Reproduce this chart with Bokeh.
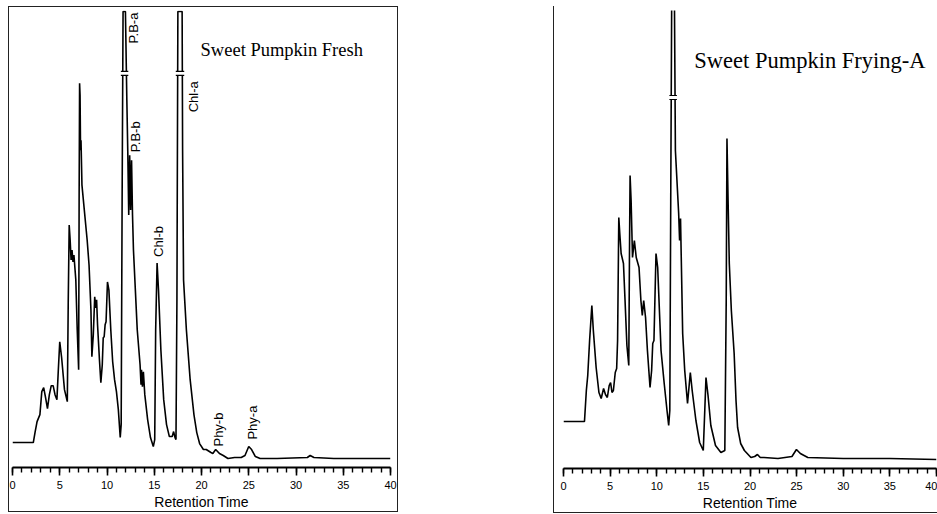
import numpy as np
from bokeh.plotting import figure
from bokeh.models import Range1d, Label, SingleIntervalTicker, ColumnDataSource, Spacer
from bokeh.layouts import row, column
from bokeh.embed import file_html
from bokeh.resources import INLINE
from bokeh.core.properties import value

# ---------------- data ----------------
fresh_time = [0.0, 2.2, 2.4, 2.6, 2.9, 3.1, 3.3, 3.5, 3.7, 3.9, 4.1, 4.3, 4.5, 4.7, 4.85, 5.0, 5.2, 5.5,
              5.8, 5.9, 6.0, 6.1, 6.2, 6.3, 6.4, 6.5, 6.7, 6.85, 7.0, 7.05, 7.1, 7.15, 7.2, 7.25, 7.35,
              7.6, 7.9, 8.1, 8.3, 8.4, 8.55, 8.7, 8.8, 8.9, 9.0, 9.2, 9.35, 9.5, 9.6, 9.7, 9.8, 9.9,
              10.05, 10.2, 10.4, 10.6, 10.8, 11.0, 11.2, 11.4, 11.5, 11.6, 11.7, 11.95, 12.1, 12.2,
              12.3, 12.4, 12.5, 12.6, 12.7, 12.8, 13.0, 13.2, 13.5, 13.6, 13.65, 13.75, 13.85, 14.0,
              14.3, 14.6, 14.9, 15.05, 15.15, 15.3, 15.45, 15.7, 16.0, 16.3, 16.6, 16.9, 17.05, 17.2,
              17.3, 17.4, 17.5, 17.95, 18.0, 18.1, 18.4, 18.8, 19.2, 19.5, 19.8, 20.2, 20.5, 21.0,
              21.2, 21.5, 21.9, 22.3, 22.8, 23.5, 24.2, 24.6, 25.0, 25.3, 25.7, 26.2, 28.0, 31.2,
              31.5, 31.9, 34.0, 40.0]
fresh_signal = [16, 16, 27, 37, 44, 67, 71, 61, 50, 64, 73, 73, 64, 59, 89, 117, 101, 69,
                57, 159, 234, 219, 199, 209, 197, 204, 179, 129, 89, 259, 376, 364, 309, 319, 274,
                249, 219, 194, 149, 102, 124, 162, 151, 159, 134, 99, 76, 94, 121, 122, 134, 137,
                177, 169, 129, 97, 79, 67, 49, 21, 34, 259, 448, 448, 359, 307,
                244, 304, 249, 299, 244, 209, 169, 129, 94, 74, 89, 72, 87, 64,
                39, 21, 12, 19, 129, 196, 169, 109, 59, 34, 22, 22, 27, 21,
                19, 159, 448, 448, 309, 179, 129, 79, 44, 26, 15, 9, 9, 6,
                5, 9, 5, 3, 0, 1, 1, 3, 12, 9, 2, 0, 0, 1,
                3, 1, 0, 0]

fry_time = [0.0, 2.25, 2.45, 2.6, 2.8, 3.04, 3.2, 3.5, 3.8, 4.04, 4.3, 4.5, 4.7, 4.9, 5.05, 5.2, 5.35,
            5.55, 5.7, 5.8, 5.93, 6.05, 6.18, 6.43, 6.6, 6.8, 7.0, 7.07, 7.14, 7.25, 7.4, 7.6, 7.8,
            8.1, 8.3, 8.45, 8.6, 8.8, 9.0, 9.28, 9.45, 9.57, 9.7, 9.92, 10.1, 10.46, 10.8, 11.1,
            11.28, 11.4, 11.5, 11.6, 11.9, 12.0, 12.35, 12.45, 12.55, 12.78, 13.0, 13.3, 13.6, 13.8,
            14.2, 14.6, 14.99, 15.15, 15.28, 15.5, 15.8, 16.0, 16.3, 16.88, 17.3, 17.45, 17.53,
            17.65, 17.78, 18.0, 18.3, 18.5, 18.67, 19.0, 19.4, 20.1, 20.5, 20.8, 21.1, 21.5, 23.0,
            24.5, 24.98, 25.4, 26.2, 30.0, 35.0, 40.0]
fry_signal = [38, 38, 69, 84, 119, 154, 129, 92, 67, 61, 71, 65, 62, 74, 77, 67, 69,
              87, 91, 119, 242, 224, 206, 196, 159, 114, 94, 199, 284, 259, 202, 219, 202,
              192, 159, 144, 159, 142, 109, 72, 89, 116, 119, 206, 192, 109, 76, 49,
              34, 49, 259, 454, 454, 309, 246, 219, 241, 126, 89, 56, 87, 69,
              39, 17, 9, 49, 82, 64, 34, 26, 14, 7, 9, 159, 321,
              259, 196, 149, 106, 59, 32, 16, 9, 2, 3, 5, 2, 2, 1,
              3, 10, 6, 2, 1, 1, 0]

fresh_peak_names = ["P.B-a", "P.B-b", "Chl-a", "Chl-b", "Phy-b", "Phy-a"]
fresh_peak_label_time = [12.8, 13.0, 19.15, 15.45, 21.8, 25.35]
fresh_peak_label_signal = [416, 307, 347, 202, 12, 19]

fresh_title = "Sweet Pumpkin Fresh"
fry_title = "Sweet Pumpkin Frying-A"
fresh_break_level = 386
fry_break_level = 362

x_ticks_interval = 5
x_label = "Retention Time"

SANS = "Liberation Sans"
SERIF = "Liberation Serif"


def make_panel(time, signal, width, height, left, right, top, bottom, shadow, break_level):
    p = figure(width=width, height=height, output_backend="svg", toolbar_location=None,
               x_range=Range1d(0, 40), y_range=Range1d(-9, 449),
               y_axis_location=None, min_border_left=left, min_border_right=right,
               min_border_top=top, min_border_bottom=bottom)
    p.background_fill_color = None
    p.border_fill_color = None
    p.outline_line_color = None
    p.grid.visible = False
    p.styles = {"box-shadow": shadow}

    ax = p.xaxis[0]
    ax.ticker = SingleIntervalTicker(interval=x_ticks_interval, num_minor_ticks=5)
    ax.axis_line_width = 2
    ax.axis_line_color = "black"
    ax.major_tick_in = 0
    ax.major_tick_out = 8
    ax.minor_tick_in = 0
    ax.minor_tick_out = 5
    ax.major_tick_line_width = 1.6
    ax.minor_tick_line_width = 1.4
    ax.major_tick_line_color = "black"
    ax.minor_tick_line_color = "black"
    ax.major_label_text_font = SANS
    ax.major_label_text_font_size = "11px"
    ax.major_label_text_color = "black"
    ax.major_label_standoff = 5
    ax.axis_label = x_label
    ax.axis_label_text_font = SANS
    ax.axis_label_text_font_size = "14px"
    ax.axis_label_text_font_style = "normal"
    ax.axis_label_text_color = "black"
    ax.axis_label_standoff = 2

    p.line(time, signal, line_color="black", line_width=1.6)

    # axis break marks on the off-scale peaks, found from the data
    t = np.array(time, dtype=float)
    s = np.array(signal, dtype=float)
    above = s > break_level
    groups = []
    i = 0
    n = len(s)
    while i < n:
        if above[i]:
            j = i
            while j + 1 < n and above[j + 1]:
                j += 1
            lo = i - 1 if i > 0 else i
            hi = j + 1 if j + 1 < n else j
            t_lo = np.interp(break_level, [s[lo], s[i]], [t[lo], t[i]])
            t_hi = np.interp(break_level, [s[hi], s[j]], [t[hi], t[j]])
            groups.append((t_lo, t_hi))
            i = j + 1
        else:
            i += 1
    for (a, b) in groups:
        pad = 0.2
        p.quad(left=a - pad, right=b + pad, bottom=break_level - 2.0, top=break_level + 2.0,
               fill_color="white", line_color=None)
        p.segment(x0=[a - pad, a - pad], x1=[b + pad, b + pad],
                  y0=[break_level - 2.0, break_level + 2.0], y1=[break_level - 2.0, break_level + 2.0],
                  line_color="black", line_width=1.2)
    return p


p1 = make_panel(fresh_time, fresh_signal, 390, 506, 4, 8, 4, 44,
                "inset 0 0 0 1px #222", fresh_break_level)
p1.add_layout(Label(x=19.9, y=409, text=fresh_title, text_font=SERIF, text_font_size="18.5px",
                    text_color="black", text_baseline="alphabetic"))
src = ColumnDataSource(dict(x=fresh_peak_label_time, y=fresh_peak_label_signal, t=fresh_peak_names))
p1.text(x="x", y="y", text="t", source=src, angle=np.pi / 2, text_align="left",
        text_baseline="middle", text_font=value(SANS), text_font_size="13px", text_color="black")

p2 = make_panel(fry_time, fry_signal, 384, 507, 10, 1, 4, 45,
                "inset 1px -1px 0 0 #222", fry_break_level)
p2.add_layout(Label(x=14.03, y=399, text=fry_title, text_font=SERIF, text_font_size="22.5px",
                    text_color="black", text_baseline="alphabetic"))

layout = column(Spacer(width=10, height=6),
                row(Spacer(width=8, height=10), p1, Spacer(width=155, height=10), p2))

open("out.html", "w").write(file_html(layout, INLINE))
